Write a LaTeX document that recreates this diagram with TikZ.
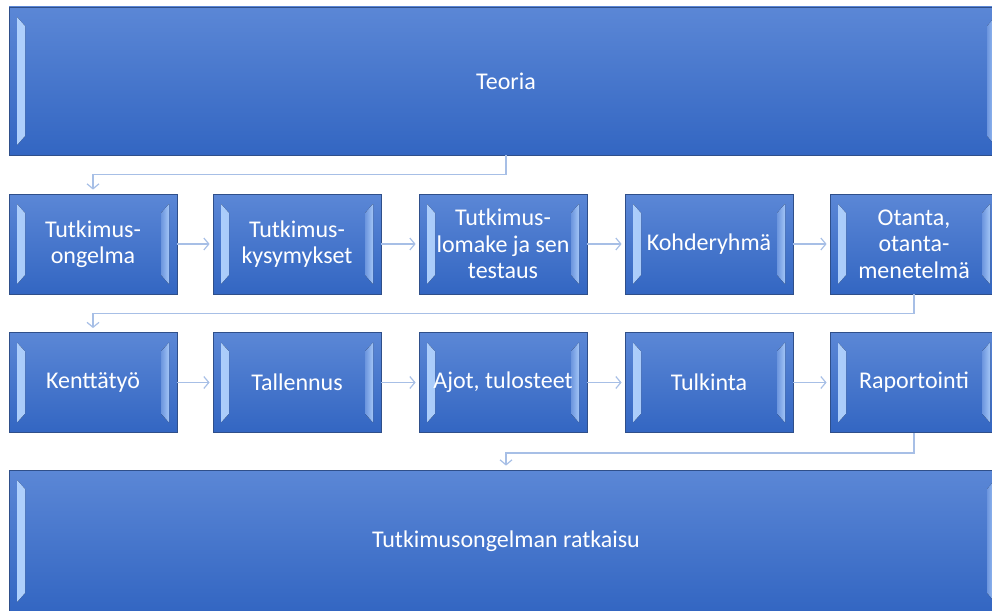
\documentclass[tikz,border=0pt]{standalone}
\usepackage{fontspec}
\setmainfont{Carlito}
\usetikzlibrary{arrows.meta}
\definecolor{boxtop}{HTML}{5B87D6}
\definecolor{boxbottom}{HTML}{3366C2}
\definecolor{boxedge}{HTML}{2F4F8A}
\definecolor{bevlight}{HTML}{AFD0FC}
\definecolor{linkblue}{HTML}{A7BFE6}

\begin{document}
\begin{tikzpicture}[x=1pt,y=-1pt]
  \tikzstyle{box}=[rectangle,draw=boxedge,line width=0.8pt,top color=boxtop,bottom color=boxbottom,
    text=white,align=center,inner sep=0pt,font=\fontsize{24}{26.5}\selectfont,
    minimum width=168pt,minimum height=100pt,
    path picture={
      \fill[left color=bevlight,right color=boxtop!70!bevlight]
        ([shift={(8pt,-10pt)}]path picture bounding box.north west) --
        ([shift={(16pt,-19pt)}]path picture bounding box.north west) --
        ([shift={(16pt,19pt)}]path picture bounding box.south west) --
        ([shift={(8pt,10pt)}]path picture bounding box.south west) -- cycle;
      \fill[left color=boxtop!80!bevlight,right color=bevlight!85!boxtop]
        ([shift={(-8pt,-10pt)}]path picture bounding box.north east) --
        ([shift={(-16pt,-19pt)}]path picture bounding box.north east) --
        ([shift={(-16pt,19pt)}]path picture bounding box.south east) --
        ([shift={(-8pt,10pt)}]path picture bounding box.south east) -- cycle;
    }]
  \tikzstyle{link}=[draw=linkblue,line width=1.2pt,shorten >=4pt,-{Straight Barb[length=5pt,width=12pt]}]

  \useasboundingbox (0,0) rectangle (992,610);
  \clip (0,0) rectangle (992,610);

  \node[box,minimum width=994pt,minimum height=148pt] (T) at (506,81) {Teoria};

  \node[box] (A_1) at (93,244)  {Tutkimus-\\ongelma};
  \node[box] (A_2) at (297,244) {Tutkimus-\\kysymykset};
  \node[box] (A_3) at (503,244) {Tutkimus-\\lomake ja sen\\testaus};
  \node[box] (A_4) at (709,244) {Kohderyhmä};
  \node[box] (A_5) at (914,244) {Otanta,\\otanta-\\menetelmä};

  \node[box] (B_1) at (93,382.5)  {Kenttätyö};
  \node[box] (B_2) at (297,382.5) {Tallennus};
  \node[box] (B_3) at (503,382.5) {Ajot, tulosteet};
  \node[box] (B_4) at (709,382.5) {Tulkinta};
  \node[box] (B_5) at (914,382.5) {Raportointi};

  \node[box,minimum width=994pt,minimum height=142pt] (R) at (506,541) {Tutkimusongelman ratkaisu};

  \draw[link] (T.south) -- ++(0,19) -| (A_1.north);
  \draw[link] (A_5.south) -- ++(0,19) -| (B_1.north);
  \draw[link] (B_5.south) -- ++(0,20) -| (R.north);

  \foreach \i/\j in {1/2,2/3,3/4,4/5}
  {
    \draw[link,shorten >=3pt] (A_\i) -- (A_\j);
    \draw[link,shorten >=3pt] (B_\i) -- (B_\j);
  }
\end{tikzpicture}
\end{document}
